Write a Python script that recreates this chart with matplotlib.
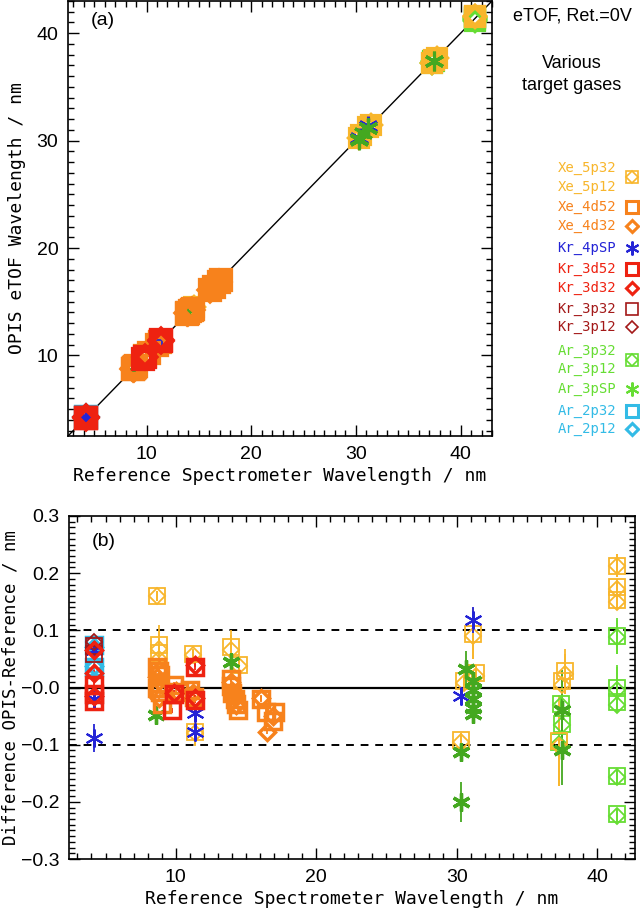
import matplotlib
matplotlib.use('Agg')
import matplotlib.pyplot as plt
from matplotlib.ticker import MultipleLocator, FixedLocator, FixedFormatter

# reference wavelength (nm), difference OPIS-reference (nm), error (nm)
xe5p32_x = [8.7, 8.8, 8.8, 11.2, 11.4, 13.9, 14.5, 30.3, 30.5, 31.2, 31.4, 37.5, 37.7, 37.3, 41.4, 41.4, 41.4]
xe5p32_d = [0.160, 0.075, 0.060, 0.059, -0.078, 0.070, 0.040, -0.092, 0.012, 0.094, 0.025, 0.012, 0.028, -0.093, 0.213, 0.175, 0.153]
xe5p32_e = [0.008, 0.035, 0.010, 0.008, 0.025, 0.030, 0.010, 0.012, 0.010, 0.045, 0.015, 0.010, 0.040, 0.080, 0.020, 0.015, 0.015]

xe5p12_x = [8.7, 8.8, 8.8, 11.2, 11.4, 13.9, 14.5, 30.3, 30.5, 31.2, 31.4, 37.5, 37.7, 37.3, 41.4, 41.4, 41.4]
xe5p12_d = [0.160, 0.068, 0.050, 0.057, -0.080, 0.066, 0.038, -0.096, 0.008, 0.090, 0.020, 0.004, 0.024, -0.102, 0.213, 0.172, 0.150]
xe5p12_e = [0.008, 0.030, 0.010, 0.008, 0.020, 0.025, 0.010, 0.012, 0.010, 0.040, 0.015, 0.010, 0.035, 0.070, 0.020, 0.015, 0.015]

xe4d52_x = [8.7, 8.8, 8.9, 8.8, 8.7, 8.9, 9.0, 9.9, 10.2, 11.0, 11.3, 13.9, 13.9, 14.0, 14.2, 14.3, 14.4, 16.1, 16.4, 16.9, 17.1]
xe4d52_d = [0.035, 0.028, 0.022, 0.008, 0.000, -0.008, -0.028, 0.004, -0.008, -0.005, -0.016, 0.014, 0.002, -0.010, -0.020, -0.028, -0.040, -0.020, -0.043, -0.058, -0.043]
xe4d52_e = [0.005] * 21

xe4d32_x = [8.8, 8.7, 8.8, 8.8, 10.0, 11.2, 13.9, 14.0, 14.2, 14.3, 16.1, 16.9, 16.5]
xe4d32_d = [0.030, 0.018, 0.012, -0.018, -0.006, -0.010, 0.010, -0.006, -0.018, -0.030, -0.018, -0.050, -0.077]
xe4d32_e = [0.005] * 13

kr4psp_x = [4.2, 4.2, 4.2, 11.4, 11.4, 30.3, 31.2]
kr4psp_d = [0.066, -0.020, -0.088, -0.044, -0.078, -0.014, 0.118]
kr4psp_e = [0.008, 0.008, 0.025, 0.010, 0.010, 0.010, 0.022]

kr3d52_x = [4.2, 4.2, 4.2, 9.7, 9.9, 11.4, 11.4]
kr3d52_d = [0.004, -0.011, -0.023, -0.040, -0.012, 0.036, -0.022]
kr3d52_e = [0.005] * 7

kr3d32_x = [4.2, 4.2, 4.2, 9.9, 11.4, 11.4]
kr3d32_d = [0.065, 0.025, -0.015, -0.010, 0.040, -0.018]
kr3d32_e = [0.005] * 6

kr3p32_x = [4.2, 4.2]
kr3p32_d = [0.058, 0.072]
kr3p32_e = [0.005, 0.005]

kr3p12_x = [4.2, 4.2]
kr3p12_d = [0.080, 0.066]
kr3p12_e = [0.005, 0.005]

ar3p32_x = [37.3, 37.4, 37.5, 41.4, 41.4, 41.4, 41.4, 41.4]
ar3p32_d = [-0.095, -0.028, -0.063, 0.090, 0.000, -0.025, -0.155, -0.222]
ar3p32_e = [0.010, 0.010, 0.010, 0.032, 0.040, 0.010, 0.012, 0.012]

ar3p12_x = [37.3, 37.4, 37.5, 41.4, 41.4, 41.4, 41.4, 41.4]
ar3p12_d = [-0.098, -0.030, -0.065, 0.088, -0.004, -0.030, -0.157, -0.224]
ar3p12_e = [0.010, 0.010, 0.010, 0.030, 0.040, 0.010, 0.012, 0.012]

ar3psp_x = [8.6, 13.9, 30.3, 30.3, 30.7, 31.2, 31.2, 31.2, 31.2, 31.2, 37.5, 37.5]
ar3psp_d = [-0.048, 0.045, -0.113, -0.200, 0.033, 0.012, -0.005, -0.020, -0.035, -0.046, -0.040, -0.110]
ar3psp_e = [0.010, 0.010, 0.012, 0.035, 0.030, 0.010, 0.015, 0.020, 0.020, 0.010, 0.070, 0.060]

ar2p32_x = [4.2, 4.2]
ar2p32_d = [0.075, 0.035]
ar2p32_e = [0.005, 0.005]

ar2p12_x = [4.2, 4.2]
ar2p12_d = [0.070, 0.038]
ar2p12_e = [0.005, 0.005]

diff_ticks = [-0.3, -0.2, -0.1, 0.0, 0.1, 0.2, 0.3]
diff_labels = ['\u22120.3', '\u22120.2', '\u22120.1', '\u22120.0', '0.1', '0.2', '0.3']

# colours
GOLD = '#F8B62C'
ORANGE = '#F7821C'
BLUE = '#2424D6'
RED = '#EE2211'
DRED = '#A31818'
LGREEN = '#66DD33'
GREEN = '#44A820'
CYAN = '#33BBE6'

AST = (6, 2, 0)
SANS = 'Liberation Sans'
MONO = 'DejaVu Sans Mono'

# (x, diff, err, colour, marker, thick) in drawing order
series = [
    (ar2p32_x, ar2p32_d, ar2p32_e, CYAN, 's', True),
    (ar2p12_x, ar2p12_d, ar2p12_e, CYAN, 'D', True),
    (ar3p32_x, ar3p32_d, ar3p32_e, LGREEN, 's', False),
    (ar3p12_x, ar3p12_d, ar3p12_e, LGREEN, 'D', False),
    (xe5p32_x, xe5p32_d, xe5p32_e, GOLD, 's', False),
    (xe5p12_x, xe5p12_d, xe5p12_e, GOLD, 'D', False),
    (kr4psp_x, kr4psp_d, kr4psp_e, BLUE, AST, False),
    (ar3psp_x, ar3psp_d, ar3psp_e, GREEN, AST, True),
    (xe4d52_x, xe4d52_d, xe4d52_e, ORANGE, 's', True),
    (xe4d32_x, xe4d32_d, xe4d32_e, ORANGE, 'D', True),
    (kr3p32_x, kr3p32_d, kr3p32_e, DRED, 's', False),
    (kr3p12_x, kr3p12_d, kr3p12_e, DRED, 'D', False),
    (kr3d52_x, kr3d52_d, kr3d52_e, RED, 's', True),
    (kr3d32_x, kr3d32_d, kr3d32_e, RED, 'D', True),
]

fig = plt.figure(figsize=(6.4, 9.08), dpi=100)
W, H = 640.0, 908.0


def px_axes(l, t, r, b):
    return fig.add_axes([l / W, 1 - b / H, (r - l) / W, (b - t) / H])


ax1 = px_axes(68, 1, 492, 436)
ax2 = px_axes(69, 516, 635, 859)


def style_axis(ax):
    ax.tick_params(which='both', direction='in', top=True, right=True,
                   labelsize=14, width=1)
    ax.tick_params(which='major', length=8, pad=7)
    ax.tick_params(which='minor', length=4)
    for lab in ax.get_xticklabels() + ax.get_yticklabels():
        lab.set_fontfamily(SANS)
    for s in ax.spines.values():
        s.set_linewidth(1.2)


# ---- (a) OPIS vs reference
ax1.plot([2.5, 43], [2.5, 43], color='black', lw=1.0, zorder=1)
for x, d, e, c, m, thick in series:
    y = [xi + di for xi, di in zip(x, d)]
    if m == AST:
        ax1.plot(x, y, ls='none', marker=m, ms=14, mew=2.2, color=c, zorder=2)
    else:
        ms = 13 if m == 's' else 10
        ax1.plot(x, y, ls='none', marker=m, ms=ms, mew=4.5 if thick else 3,
                 mfc='none', mec=c, zorder=2)
ax1.set_xlim(2.5, 43)
ax1.set_ylim(2.5, 43)
ax1.xaxis.set_major_locator(MultipleLocator(10))
ax1.xaxis.set_minor_locator(MultipleLocator(1))
ax1.yaxis.set_major_locator(MultipleLocator(10))
ax1.yaxis.set_minor_locator(MultipleLocator(1))
style_axis(ax1)
ax1.set_xlabel('Reference Spectrometer Wavelength / nm', family=MONO, fontsize=13, labelpad=3)
ax1.set_ylabel('OPIS eTOF Wavelength / nm', family=MONO, fontsize=13)
ax1.yaxis.set_label_coords(-0.10, 0.5)
ax1.text(0.053, 0.975, '(a)', transform=ax1.transAxes, ha='left', va='top',
         family=SANS, fontsize=14)

# ---- (b) difference
ax2.axhline(0.0, color='black', lw=1.6, zorder=1)
for lvl in (0.1, -0.1):
    ax2.axhline(lvl, color='black', lw=1.4, ls=(0, (4, 3.5)), zorder=1)
for x, d, e, c, m, thick in series:
    ax2.errorbar(x, d, yerr=e, fmt='none', ecolor=c, elinewidth=1.3, zorder=2)
    if m == AST:
        ax2.plot(x, d, ls='none', marker=m, ms=13, mew=2.4 if thick else 1.5,
                 color=c, zorder=3)
    else:
        ms = 11 if m == 's' else 8
        ax2.plot(x, d, ls='none', marker=m, ms=ms, mew=2.5 if thick else 1.3,
                 mfc='none', mec=c, zorder=3)
ax2.set_xlim(2.4, 42.7)
ax2.set_ylim(-0.3, 0.3)
ax2.xaxis.set_major_locator(MultipleLocator(10))
ax2.xaxis.set_minor_locator(MultipleLocator(1))
ax2.yaxis.set_major_locator(FixedLocator(diff_ticks))
ax2.yaxis.set_major_formatter(FixedFormatter(diff_labels))
ax2.yaxis.set_minor_locator(MultipleLocator(0.01))
style_axis(ax2)
ax2.set_xlabel('Reference Spectrometer Wavelength / nm', family=MONO, fontsize=13, labelpad=3)
ax2.set_ylabel('Difference OPIS-Reference / nm', family=MONO, fontsize=12.5)
ax2.yaxis.set_label_coords(-0.088, 0.5)
ax2.text(0.04, 0.95, '(b)', transform=ax2.transAxes, ha='left', va='top',
         family=SANS, fontsize=14)

# ---- annotations and legend on the right of panel (a)
ov = fig.add_axes([0, 0, 1, 1], zorder=5)
ov.set_xlim(0, W)
ov.set_ylim(H, 0)
ov.axis('off')
ov.text(572, 16, 'eTOF, Ret.=0V', ha='center', va='center', family=SANS, fontsize=13)
ov.text(572, 63, 'Various', ha='center', va='center', family=SANS, fontsize=13)
ov.text(572, 86, 'target gases', ha='center', va='center', family=SANS, fontsize=13)

legend_rows = [
    ('Xe_5p32', GOLD), ('Xe_5p12', GOLD), ('Xe_4d52', ORANGE), ('Xe_4d32', ORANGE),
    ('Kr_4pSP', BLUE), ('Kr_3d52', RED), ('Kr_3d32', RED), ('Kr_3p32', DRED),
    ('Kr_3p12', DRED), ('Ar_3p32', LGREEN), ('Ar_3p12', LGREEN), ('Ar_3pSP', LGREEN),
    ('Ar_2p32', CYAN), ('Ar_2p12', CYAN),
]
row_y = [168, 187, 207, 226, 248, 269, 288, 309, 327, 351, 369, 389, 411, 429]
for (lab, c), yy in zip(legend_rows, row_y):
    ov.text(616, yy, lab, ha='right', va='center', family=MONO, fontsize=10, color=c)

sx = 632
legend_syms = [
    (177, GOLD, ['s', 'D'], 1.2), (207, ORANGE, ['s'], 2.2), (226, ORANGE, ['D'], 2.2),
    (248, BLUE, [AST], 1.5), (269, RED, ['s'], 2.2), (288, RED, ['D'], 2.2),
    (309, DRED, ['s'], 1.2), (327, DRED, ['D'], 1.2), (360, LGREEN, ['s', 'D'], 1.2),
    (389, LGREEN, [AST], 1.5), (411, CYAN, ['s'], 2.2), (429, CYAN, ['D'], 2.2),
]
for yy, c, ms_list, lw in legend_syms:
    for m in ms_list:
        size = {'s': 9, 'D': 6.5}.get(m, 10) if not isinstance(m, tuple) else 10
        ov.plot([sx], [yy], marker=m, ms=size, mew=lw, mfc='none', mec=c,
                color=c, ls='none')

fig.savefig('out.png', dpi=100)
